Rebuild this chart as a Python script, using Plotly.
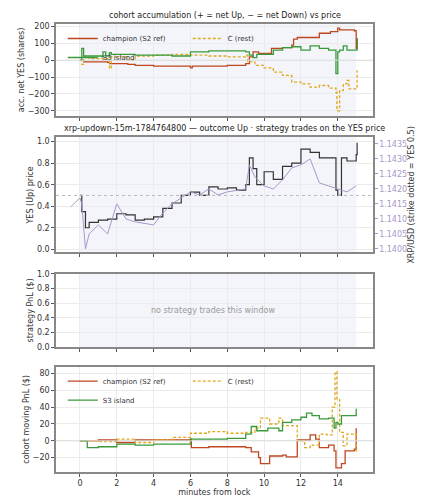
import plotly.graph_objects as go
from plotly.subplots import make_subplots

# accumulation (shares)
champ_acc_t = [0, 0.2, 1.5, 1.6, 2.6, 3, 4, 6, 6.1, 8, 9, 9.2, 9.4, 9.7, 10.3, 10.4, 11, 11.5, 11.6, 11.8, 13, 13.6, 14, 14.1, 14.9, 15, 15.05]
champ_acc_v = [0, -10, -12, -20, -25, -30, -35, -45, -35, -30, -20, 20, 50, 40, 40, 70, 75, 90, 125, 135, 160, 170, 190, 180, 175, 70, 130]
s3_acc_t = [0, 0.1, 0.2, 1.2, 1.25, 1.4, 1.6, 1.7, 3, 5, 6, 7, 9, 9.2, 9.4, 9.6, 10.5, 11, 11.5, 12, 12.5, 13, 13.5, 13.9, 14, 14.1, 14.3, 14.5, 15, 15.05]
s3_acc_v = [0, 70, 25, 20, 50, 25, 45, 35, 30, 25, 50, 55, 50, 30, 15, 35, 60, 75, 80, 60, 85, 70, 60, -80, 50, 60, 85, 60, 60, 130]
c_acc_t = [0, 0.1, 0.2, 0.5, 1.5, 1.6, 1.7, 2.6, 3, 4, 5, 6, 7, 8, 9, 9.1, 9.5, 10, 10.5, 11, 11.5, 12, 12.5, 13, 13.5, 13.9, 13.95, 14.1, 14.3, 14.5, 14.6, 15, 15.05]
c_acc_v = [0, -25, 20, 10, 5, -50, 20, 0, 25, 30, 35, 30, 25, 20, 30, -10, -30, -45, -70, -90, -130, -140, -160, -150, -165, -190, -300, -180, -140, -120, -170, -170, -60]

# YES price and XRP reference price
yes_t = [0, 0.1, 0.3, 0.5, 1, 1.5, 2, 2.5, 3, 3.5, 4, 4.5, 5, 5.5, 6, 6.5, 7, 7.5, 8, 8.5, 9, 9.2, 9.4, 9.6, 10, 10.5, 11, 11.5, 12, 12.5, 13, 13.5, 13.9, 14, 14.2, 14.5, 15, 15.05]
yes_p = [0.5, 0.35, 0.2, 0.25, 0.27, 0.28, 0.33, 0.32, 0.27, 0.28, 0.3, 0.38, 0.43, 0.5, 0.53, 0.5, 0.58, 0.56, 0.57, 0.55, 0.6, 0.85, 0.75, 0.6, 0.72, 0.65, 0.77, 0.8, 0.93, 0.9, 0.85, 0.85, 0.55, 0.5, 0.85, 0.82, 0.88, 0.99]
xrp_t = [-0.5, 0, 0.1, 0.3, 0.5, 1, 1.5, 2, 2.5, 3, 4, 4.5, 5, 5.5, 6, 6.5, 7, 7.5, 8, 9, 9.2, 9.5, 10, 10.5, 11, 11.5, 12, 12.5, 13, 13.5, 14, 14.5, 15]
xrp_p = [1.1414, 1.1417, 1.1415, 1.1400, 1.1405, 1.1408, 1.1405, 1.1415, 1.1410, 1.1409, 1.1408, 1.1412, 1.1415, 1.1417, 1.1419, 1.1418, 1.1420, 1.1418, 1.1419, 1.1420, 1.1428, 1.1424, 1.1421, 1.1420, 1.1423, 1.1427, 1.1428, 1.1430, 1.1422, 1.1421, 1.1420, 1.1419, 1.1421]

# cohort moving PnL ($)
champ_pnl_t = [0, 1, 2, 3, 6, 6.05, 7, 9, 9.3, 9.7, 9.8, 10.3, 11, 11.2, 11.8, 12.5, 12.8, 13, 13.5, 13.8, 13.9, 14.2, 14.4, 14.9, 15]
champ_pnl_v = [0, 1, -2, 1, 2, -8, -7, -8, -13, -20, -27, -18, -17, -19, 1, 7, 2, -8, -5, -12, -32, -27, -12, -10, 15]
s3_pnl_t = [0, 0.4, 1, 2, 3, 4, 6, 8, 9, 9.3, 9.6, 10.2, 10.8, 11, 11.5, 12, 12.3, 12.6, 13, 13.5, 13.8, 13.9, 14, 14.2, 14.5, 15]
s3_pnl_v = [0, -8, -7, -4, -5, -4, 2, 3, 8, 17, 12, 15, 12, 22, 25, 28, 33, 30, 26, 27, 15, 22, 20, 30, 30, 38]
c_pnl_t = [0, 1, 2, 3, 4, 5, 6, 7, 8, 9, 9.5, 9.8, 10.3, 10.8, 11, 11.8, 12.2, 12.5, 13, 13.4, 13.7, 13.85, 13.95, 14.1, 14.3, 14.5, 15]
c_pnl_v = [0, -1, 2, -2, 1, 4, 9, 11, 9, 10, 15, 27, 20, 27, 18, 0, -8, -5, 8, 7, 40, 82, 50, 10, -6, 8, -14]

RED, GREEN, GOLD, BLACK, PURPLE = "#c0461f", "#3a9a3a", "#e0a81e", "#333333", "#a897c9"

fig = make_subplots(rows=4, cols=1, specs=[[{}], [{"secondary_y": True}], [{}], [{}]])
font = dict(family="DejaVu Sans", size=8, color="#333")


def add_cohorts(row, ct, cv, st, sv, gt, gv, legend):
  fig.add_trace(go.Scatter(x=ct, y=cv, name="champion (S2 ref)", line=dict(color=RED, width=1.3, shape="hv"), legend=legend), row=row, col=1)
  fig.add_trace(go.Scatter(x=gt, y=gv, name="C (rest)", line=dict(color=GOLD, width=1.3, shape="hv", dash="3px,2px"), legend=legend), row=row, col=1)
  fig.add_trace(go.Scatter(x=st, y=sv, name="S3 island", line=dict(color=GREEN, width=1.3, shape="hv"), legend=legend), row=row, col=1)


add_cohorts(1, champ_acc_t, champ_acc_v, s3_acc_t, s3_acc_v, c_acc_t, c_acc_v, "legend")
fig.add_trace(go.Scatter(x=xrp_t, y=xrp_p, line=dict(color=PURPLE, width=1), showlegend=False), row=2, col=1, secondary_y=True)
fig.add_trace(go.Scatter(x=yes_t, y=yes_p, line=dict(color=BLACK, width=1.2, shape="hv"), showlegend=False), row=2, col=1)
add_cohorts(4, champ_pnl_t, champ_pnl_v, s3_pnl_t, s3_pnl_v, c_pnl_t, c_pnl_v, "legend2")

domains = [(0.795, 1.0), (0.49, 0.747), (0.279, 0.442), (0.0, 0.235)]
axis = dict(showline=True, mirror=True, linecolor="#888", linewidth=1.5, gridcolor="#ebebeb",
            ticks="outside", ticklen=3, tickcolor="#555", zeroline=False, tickfont=font)
for i, d in enumerate(domains, start=1):
  fig.update_xaxes(axis, range=[-1.3, 15.9], tickvals=list(range(0, 16, 2)), showticklabels=(i == 4), row=i, col=1)
  fig.update_yaxes(axis, domain=list(d), row=i, col=1)
  xr = "x" if i == 1 else f"x{i}"
  fig.add_shape(type="rect", xref=xr, yref=f"{xr.replace('x', 'y')} domain", x0=0, x1=15, y0=0, y1=1,
                fillcolor="#f3f5fa", line_width=0, layer="below")

fig.update_xaxes(title_text="minutes from lock", title_font=font, title_standoff=2, row=4, col=1)
fig.update_yaxes(title_text="acc. net YES (shares)", range=[-330, 215], tickvals=[-300, -200, -100, 0, 100, 200], row=1, col=1)
fig.update_yaxes(title_text="YES (Up) price", range=[-0.03, 1.04], tickvals=[0, 0.2, 0.4, 0.6, 0.8, 1.0], tickformat=".1f", row=2, col=1, secondary_y=False)
fig.update_yaxes(title_text="XRP/USD (strike dotted = YES 0.5)", title_font=dict(family="DejaVu Sans", size=7, color=PURPLE),
                 tickfont=dict(family="DejaVu Sans", size=8, color=PURPLE), tickformat=".4f", range=[1.13988, 1.14372],
                 tickvals=[1.1400, 1.1405, 1.1410, 1.1415, 1.1420, 1.1425, 1.1430, 1.1435], showgrid=False,
                 ticks="outside", ticklen=3, tickcolor=PURPLE, row=2, col=1, secondary_y=True)
fig.update_yaxes(title_text="strategy PnL ($)", range=[0, 1], tickvals=[0, 0.2, 0.4, 0.6, 0.8, 1.0], tickformat=".1f", row=3, col=1)
fig.update_yaxes(title_text="cohort moving PnL ($)", range=[-37, 88], tickvals=[-20, 0, 20, 40, 60, 80], row=4, col=1)
fig.update_yaxes(title_font=font, title_standoff=2)

fig.add_hline(y=0, line=dict(color="#dcdcdc", width=1), row=1, col=1)
fig.add_hline(y=0, line=dict(color="#dcdcdc", width=1), row=4, col=1)
fig.add_hline(y=0.5, line=dict(color="#bbb", width=1, dash="dot"), row=2, col=1)

fig.add_annotation(text="no strategy trades this window", xref="x3", yref="y4", x=7.2, y=0.5, showarrow=False,
                   font=dict(family="DejaVu Sans", size=8, color="#999"))
titles = [("cohort accumulation (+ = net Up, − = net Down) vs price", 1.0),
          ("xrp-updown-15m-1784764800 — outcome Up · strategy trades on the YES price", 0.747)]
for t, y in titles:
  fig.add_annotation(text=t, xref="paper", yref="paper", x=0.5, y=y, yanchor="bottom", yshift=2, showarrow=False,
                     font=dict(family="DejaVu Sans", size=8, color="#222"))

leg = dict(orientation="h", x=0.02, xanchor="left", yanchor="top", entrywidth=80, font=dict(family="DejaVu Sans", size=7),
           bgcolor="rgba(255,255,255,0)", tracegroupgap=0, itemwidth=30)
fig.update_layout(
  width=427, height=500, margin=dict(l=38, r=42, t=14, b=27),
  plot_bgcolor="white", paper_bgcolor="white", font=font,
  legend=dict(leg, y=1.0),
  legend2=dict(leg, y=0.235),
)
fig.write_html("out.html")
